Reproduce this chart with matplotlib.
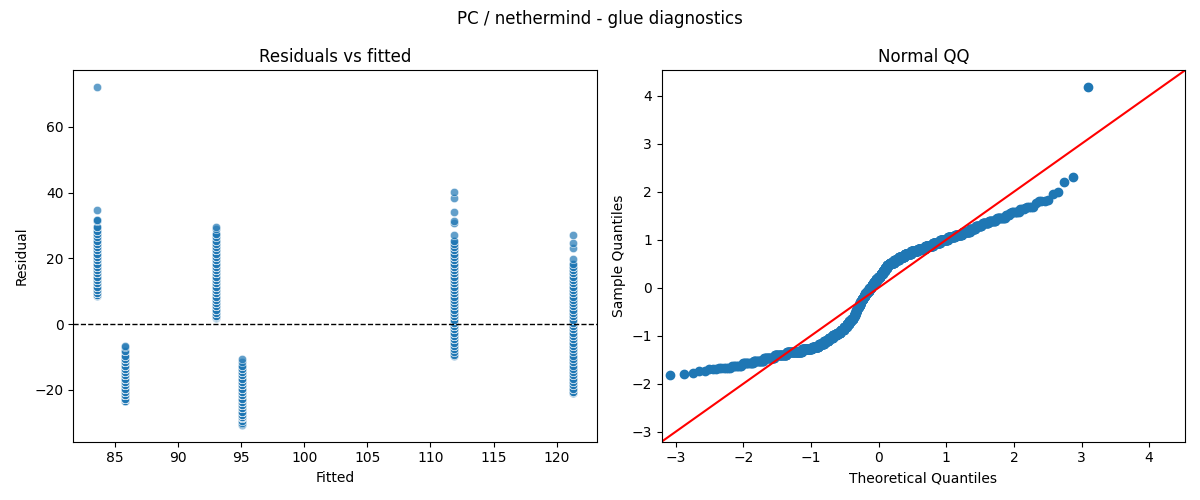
import numpy as np
import pandas as pd
import matplotlib
matplotlib.use("Agg")
import matplotlib.pyplot as plt
import seaborn as sns
from statistics import NormalDist

# fitted value of each group
fitted_levels = [83.6, 85.8, 93.0, 95.1, 111.9, 121.3]

# residuals: value, and how many points sit there
g1_vals = [8.7, 8.9, 9.4, 10.4, 11.4, 12.4, 13.4, 14.4, 15.4, 16.4, 17.4, 18.4, 19.4, 20.4,
           21.4, 22.4, 23.4, 24.4, 25.4, 26.4, 27.4, 28.4, 29.4, 31.2, 31.5, 31.7, 34.6, 72.0]
g1_counts = [1, 4, 9, 9, 12, 13, 13, 13, 13, 11, 11, 9, 11, 10,
             6, 5, 5, 5, 5, 2, 3, 3, 3, 1, 1, 1, 1, 1]

g2_vals = [-23.5, -23.4, -22.6, -21.6, -20.6, -19.6, -18.6, -17.6, -16.6, -15.6, -14.6,
           -13.6, -12.6, -11.6, -10.6, -9.6, -8.2, -7.0, -6.6]
g2_counts = [1, 12, 22, 17, 10, 9, 10, 10, 11, 11, 10, 7, 8, 8, 8, 3, 3, 1, 1]

g3_vals = [1.8, 2.2, 2.6, 3.4, 4.4, 5.4, 6.4, 7.4, 8.4, 9.4, 10.4, 11.4, 12.4, 13.4, 14.4,
           15.4, 16.4, 17.4, 18.4, 19.4, 20.4, 21.4, 22.4, 23.4, 24.4, 25.4, 26.4, 27.4, 29.0, 29.4]
g3_counts = [1, 3, 4, 4, 5, 5, 5, 5, 5, 8, 8, 9, 10, 10, 10,
             9, 8, 8, 7, 5, 5, 4, 4, 3, 3, 3, 2, 3, 1, 1]

g4_vals = [-30.6, -30.2, -29.9, -29.3, -28.6, -28.3, -27.6, -26.6, -25.6, -24.6, -23.6, -22.6,
           -21.6, -20.6, -19.6, -18.6, -17.6, -16.6, -15.6, -14.6, -13.6, -12.6, -11.5, -10.5]
g4_counts = [1, 1, 1, 2, 3, 6, 7, 10, 13, 17, 12, 19,
             16, 10, 8, 7, 6, 5, 5, 4, 4, 3, 1, 1]

g5_vals = [-9.6, -9.2, -9.4, -8.6, -7.6, -6.6, -5.6, -4.6, -3.6, -2.6, -1.6, -0.6, 0.4, 1.4,
           2.4, 3.4, 4.4, 5.4, 6.4, 7.4, 8.4, 9.4, 10.4, 11.4, 12.4, 13.4, 14.4, 15.4, 16.4,
           17.4, 18.4, 19.4, 20.4, 21.4, 22.4, 23.4, 24.4, 25.4, 27.1, 30.7, 31.4, 34.0, 38.3, 40.1]
g5_counts = [1, 1, 2, 2, 2, 3, 3, 4, 5, 5, 5, 6, 6, 5,
             5, 5, 4, 4, 4, 4, 3, 5, 5, 6, 7, 7, 7, 7, 6,
             6, 5, 5, 4, 3, 3, 3, 2, 2, 1, 1, 1, 1, 1, 1]

g6_vals = [-21.0, -20.4, -20.6, -19.6, -18.6, -17.6, -16.6, -15.6, -14.6, -13.6, -12.6, -11.6,
           -10.6, -9.6, -8.6, -7.6, -6.6, -5.6, -4.6, -3.6, -2.6, -1.6, -0.6, 0.4, 1.4, 2.4, 3.4,
           4.4, 5.4, 6.4, 7.4, 8.4, 9.4, 10.4, 11.4, 12.4, 13.4, 14.4, 15.4, 16.4, 17.4, 18.4,
           19.7, 23.1, 24.8, 27.1]
g6_counts = [2, 2, 4, 3, 3, 3, 3, 3, 3, 3, 2, 3,
             3, 2, 2, 3, 4, 4, 4, 6, 6, 6, 6, 6, 5, 4, 4,
             4, 4, 4, 3, 3, 4, 4, 5, 5, 5, 5, 5, 4, 4, 2,
             1, 1, 1, 1]

groups = [(g1_vals, g1_counts), (g2_vals, g2_counts), (g3_vals, g3_counts),
          (g4_vals, g4_counts), (g5_vals, g5_counts), (g6_vals, g6_counts)]

rows = []
for fv, (vals, cnts) in zip(fitted_levels, groups):
    for v, c in zip(vals, cnts):
        rows += [(fv, v)] * c
df = pd.DataFrame(rows, columns=['fitted', 'resid'])

#%%
fig, (ax_l, ax_r) = plt.subplots(1, 2, figsize=(12, 5), dpi=100)

sns.scatterplot(data=df, x='fitted', y='resid', alpha=0.7, ax=ax_l)
ax_l.axhline(0, color='black', linestyle='--', linewidth=1)
ax_l.set_title('Residuals vs fitted')
ax_l.set_xlabel('Fitted')
ax_l.set_ylabel('Residual')

# normal QQ, same as a fitted probplot with plotting positions i/(n+1)
r = np.sort(df['resid'].values)
n = len(r)
sample_q = (r - r.mean()) / r.std()
nd = NormalDist()
theo_q = np.array([nd.inv_cdf(i / (n + 1)) for i in range(1, n + 1)])

ax_r.plot(theo_q, sample_q, marker='o', linestyle='None',
          markerfacecolor='C0', markeredgecolor='C0')
lims = (-3.21, 4.53)
ax_r.plot(lims, lims, 'r-')
ax_r.set_xlim(lims)
ax_r.set_ylim(lims)
ax_r.set_title('Normal QQ')
ax_r.set_xlabel('Theoretical Quantiles')
ax_r.set_ylabel('Sample Quantiles')

fig.suptitle('PC / nethermind - glue diagnostics')
fig.tight_layout()
fig.savefig('out.png')
